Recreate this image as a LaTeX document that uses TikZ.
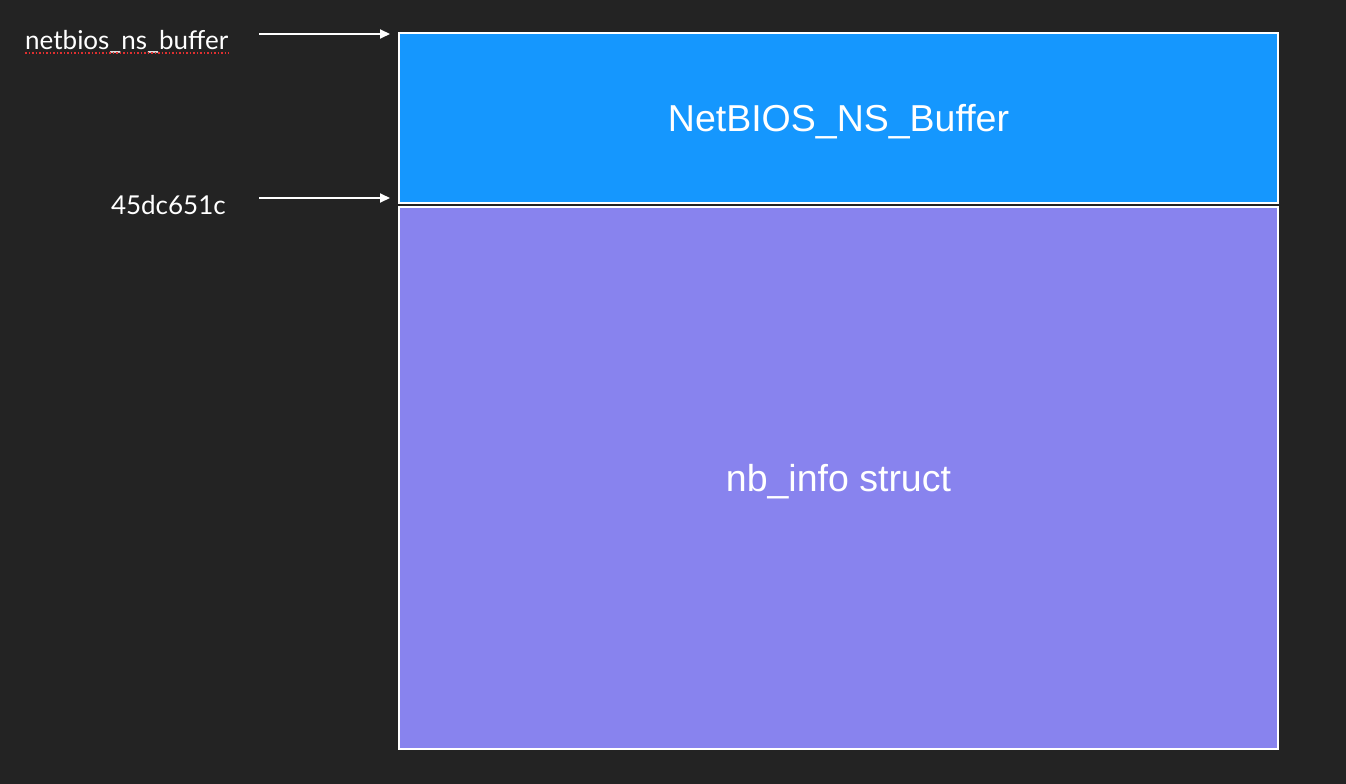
\documentclass[tikz,border=0pt]{standalone}
\usepackage{fontspec}
\setmainfont{Liberation Sans}
\newfontfamily\labelfont{Lato}
\usetikzlibrary{arrows.meta}
\definecolor{bgdark}{HTML}{232323}
\definecolor{bufblue}{HTML}{1597FE}
\definecolor{structpurple}{HTML}{8883EE}
\definecolor{spellred}{HTML}{E03030}
\begin{document}
\begin{tikzpicture}[x=1pt,y=-1pt,
  membox/.style={draw=white,line width=2pt,anchor=north west,inner sep=0pt,text depth=0pt,font=\fontsize{37.5}{40}\selectfont,text=white},
  addrlabel/.style={text=white,font=\labelfont\fontsize{26}{29}\selectfont,inner sep=0pt},
  ptr/.style={draw=white,line width=2pt,-{Triangle[length=10pt,width=9pt]}}]
\fill[bgdark] (0,0) rectangle (1346,784);
\useasboundingbox (0,0) rectangle (1346,784);
\node[membox,fill=bufblue,minimum width=879pt,minimum height=170pt] (buf) at (398,32) {NetBIOS\_NS\_Buffer};
\node[membox,fill=structpurple,minimum width=879pt,minimum height=542pt] (nb) at (398,206) {nb\_info struct};
\node[addrlabel,anchor=base west] (lbuf) at (25,49) {netbios\_ns\_buffer};
\node[addrlabel,anchor=east] (laddr) at (226,205) {45dc651c};
\draw[spellred,line width=1.5pt,dotted] ([yshift=-4pt]lbuf.base west) -- ([yshift=-4pt]lbuf.base east);
\coordinate (s1) at (259,34);
\coordinate (e1) at (390,34);
\coordinate (s2) at (259,198);
\coordinate (e2) at (390,198);
\draw[ptr] (s1) -- (e1);
\draw[ptr] (s2) -- (e2);
\end{tikzpicture}
\end{document}
